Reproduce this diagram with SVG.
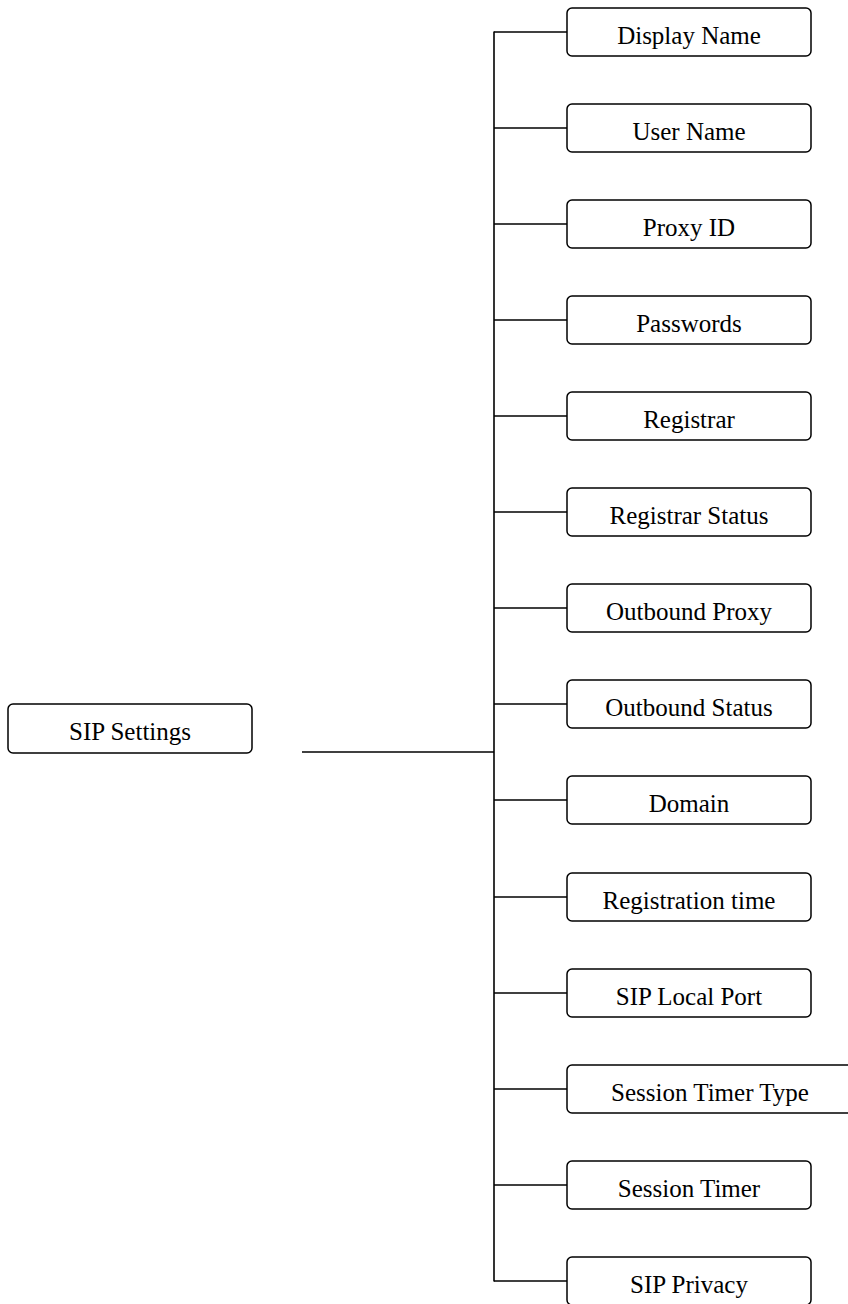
<svg xmlns="http://www.w3.org/2000/svg" width="848" height="1304" viewBox="0 0 848 1304">
<style>
.box{fill:#fff;stroke:#000;stroke-width:1.5}
.lbl{font-family:"Liberation Serif","Times New Roman",serif;font-size:25px;fill:#000;text-anchor:middle}
.ln{stroke:#000;stroke-width:1.6;fill:none}
</style>
<rect width="848" height="1304" fill="#fff"/>
<g id="connectors">
<line class="ln" x1="494" y1="31.5" x2="494" y2="1281.5"/>
<line class="ln" x1="302" y1="752" x2="494" y2="752"/>
<line class="ln" x1="494" y1="32" x2="567" y2="32"/>
<line class="ln" x1="494" y1="128" x2="567" y2="128"/>
<line class="ln" x1="494" y1="224" x2="567" y2="224"/>
<line class="ln" x1="494" y1="320" x2="567" y2="320"/>
<line class="ln" x1="494" y1="416" x2="567" y2="416"/>
<line class="ln" x1="494" y1="512" x2="567" y2="512"/>
<line class="ln" x1="494" y1="608" x2="567" y2="608"/>
<line class="ln" x1="494" y1="704" x2="567" y2="704"/>
<line class="ln" x1="494" y1="800" x2="567" y2="800"/>
<line class="ln" x1="494" y1="897" x2="567" y2="897"/>
<line class="ln" x1="494" y1="993" x2="567" y2="993"/>
<line class="ln" x1="494" y1="1089" x2="567" y2="1089"/>
<line class="ln" x1="494" y1="1185" x2="567" y2="1185"/>
<line class="ln" x1="494" y1="1281" x2="567" y2="1281"/>
</g>
<g id="sip-settings"><rect class="box" x="8" y="704" width="244" height="49" rx="5"/><text class="lbl" x="130" y="740">SIP Settings</text></g>
<g id="display-name"><rect class="box" x="567" y="8" width="244" height="48" rx="5"/><text class="lbl" x="689" y="44">Display Name</text></g>
<g id="user-name"><rect class="box" x="567" y="104" width="244" height="48" rx="5"/><text class="lbl" x="689" y="140">User Name</text></g>
<g id="proxy-id"><rect class="box" x="567" y="200" width="244" height="48" rx="5"/><text class="lbl" x="689" y="236">Proxy ID</text></g>
<g id="passwords"><rect class="box" x="567" y="296" width="244" height="48" rx="5"/><text class="lbl" x="689" y="332">Passwords</text></g>
<g id="registrar"><rect class="box" x="567" y="392" width="244" height="48" rx="5"/><text class="lbl" x="689" y="428">Registrar</text></g>
<g id="registrar-status"><rect class="box" x="567" y="488" width="244" height="48" rx="5"/><text class="lbl" x="689" y="524">Registrar Status</text></g>
<g id="outbound-proxy"><rect class="box" x="567" y="584" width="244" height="48" rx="5"/><text class="lbl" x="689" y="620">Outbound Proxy</text></g>
<g id="outbound-status"><rect class="box" x="567" y="680" width="244" height="48" rx="5"/><text class="lbl" x="689" y="716">Outbound Status</text></g>
<g id="domain"><rect class="box" x="567" y="776" width="244" height="48" rx="5"/><text class="lbl" x="689" y="812">Domain</text></g>
<g id="registration-time"><rect class="box" x="567" y="873" width="244" height="48" rx="5"/><text class="lbl" x="689" y="909">Registration time</text></g>
<g id="sip-local-port"><rect class="box" x="567" y="969" width="244" height="48" rx="5"/><text class="lbl" x="689" y="1005">SIP Local Port</text></g>
<g id="session-timer-type"><rect class="box" x="567" y="1065" width="290" height="48" rx="5"/><text class="lbl" x="710" y="1101">Session Timer Type</text></g>
<g id="session-timer"><rect class="box" x="567" y="1161" width="244" height="48" rx="5"/><text class="lbl" x="689" y="1197">Session Timer</text></g>
<g id="sip-privacy"><rect class="box" x="567" y="1257" width="244" height="48" rx="5"/><text class="lbl" x="689" y="1293">SIP Privacy</text></g>
</svg>
